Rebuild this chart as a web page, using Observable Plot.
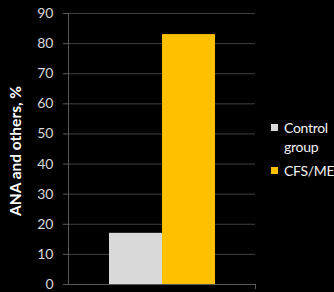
<!DOCTYPE html>
<html>
<head>
<meta charset="utf-8">
<script src="https://cdn.jsdelivr.net/npm/d3@7"></script>
<script src="https://cdn.jsdelivr.net/npm/@observablehq/plot@0.6"></script>
<style>
  html, body { margin: 0; padding: 0; background: #000; }
  #wrap { position: relative; width: 334px; height: 292px; background: #000; font-family: Lato, "Open Sans", sans-serif; overflow: hidden; }
  #legend { position: absolute; left: 271px; top: 118px; color: #f2f2f2; font-size: 14px; line-height: 19px; letter-spacing: -0.3px; }
  .item { display: flex; align-items: flex-start; margin-bottom: 5px; }
  .sw { width: 7px; height: 7px; margin-top: 6px; margin-right: 6px; flex: none; }
</style>
</head>
<body>
<div id="wrap"></div>
<script>
const categories = ["Control group", "CFS/ME"];
const values = [17, 83];
const colors = ["#d9d9d9", "#ffc000"];
const yTicks = [0, 10, 20, 30, 40, 50, 60, 70, 80, 90];
const yLabel = "ANA and others, %";

const data = categories.map((c, i) => ({ cat: c, value: values[i] }));

const chart = Plot.plot({
  width: 334,
  height: 292,
  marginLeft: 68,
  marginRight: 79,
  marginTop: 13,
  marginBottom: 8,
  style: { background: "#000", fontFamily: "Lato, 'Open Sans', sans-serif" },
  x: { type: "band", domain: categories, paddingInner: 0, paddingOuter: 0.764, axis: null },
  y: { domain: [0, 90], ticks: yTicks, axis: null },
  color: { domain: categories, range: colors },
  marks: [
    Plot.ruleY(yTicks.filter(d => d > 0), { stroke: "#404040", strokeWidth: 1 }),
    Plot.barY(data, { x: "cat", y: "value", fill: "cat" }),
    Plot.axisY({ ticks: yTicks, tickSize: 5, tickPadding: 10, stroke: "#595959", fill: "#d9d9d9", fontSize: 14, label: null }),
    Plot.ruleY([0], { stroke: "#595959" }),
    Plot.frame({ anchor: "left", stroke: "#595959" }),
    Plot.frame({ anchor: "right", stroke: "#595959", insetTop: 271, insetBottom: -4 }),
    Plot.text([yLabel], { frameAnchor: "left", textAnchor: "middle", rotate: -90, dx: -52, dy: 2, fill: "#fff", fontWeight: "bold", fontSize: 15.5 })
  ]
});

const wrap = document.getElementById("wrap");
wrap.appendChild(chart);

const legend = document.createElement("div");
legend.id = "legend";
categories.forEach((c, i) => {
  const item = document.createElement("div");
  item.className = "item";
  const sw = document.createElement("span");
  sw.className = "sw";
  sw.style.background = colors[i];
  const t = document.createElement("span");
  t.innerHTML = c === "Control group" ? "Control<br>group" : c;
  item.appendChild(sw);
  item.appendChild(t);
  legend.appendChild(item);
});
wrap.appendChild(legend);
</script>
</body>
</html>
